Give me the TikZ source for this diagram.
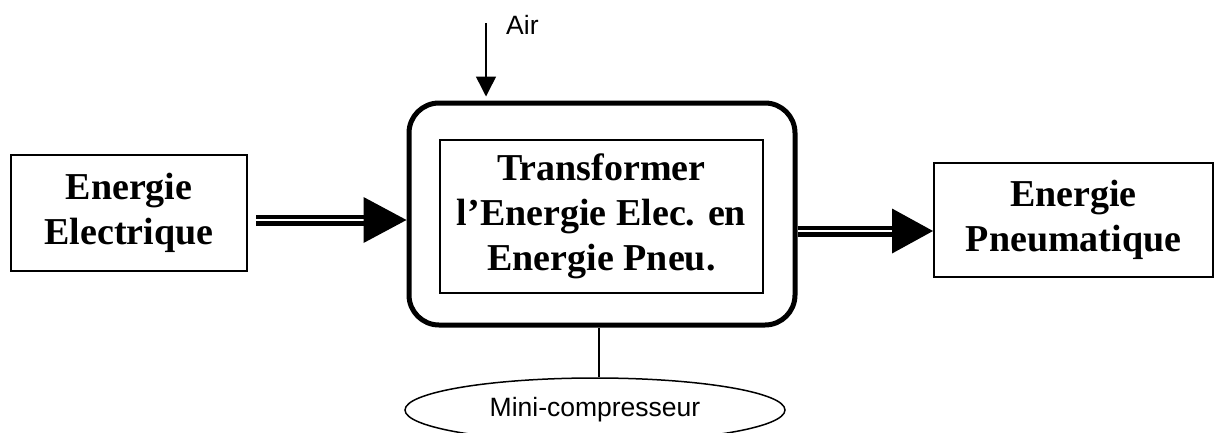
\documentclass[tikz,border=0pt]{standalone}
\usepackage{fontspec}
\setmainfont{Liberation Serif}
\newfontfamily\arialfont{Liberation Sans}
\usetikzlibrary{shapes.geometric,arrows.meta}
\begin{document}
\begin{tikzpicture}[x=1pt,y=-1pt,
  boxtxt/.style={font=\bfseries\fontsize{38}{45}\selectfont, align=center, inner sep=0pt},
  plainbox/.style={draw, line width=2pt, boxtxt},
  sanslabel/.style={font=\arialfont\fontsize{26.5}{30}\selectfont, inner sep=0pt},
  shaft/.style={draw, double, line width=4.5pt, double distance=2pt},
  thinline/.style={line width=1.5pt}
]
\useasboundingbox (0,0) rectangle (1215,432);
\clip (0,0) rectangle (1215,432);

% nodes
\node[plainbox, minimum width=236pt, minimum height=116pt] (ee) at (129,213) {Energie\\Electrique};
\node[plainbox, minimum width=279pt, minimum height=114pt] (ep) at (1073.5,220) {Energie\\Pneumatique};
\node[draw, line width=5pt, rounded corners=30pt, minimum width=386pt, minimum height=222pt] (outer) at (602,214) {};
\node[plainbox, minimum width=323pt, minimum height=153pt] (inner) at (601.5,216.5) {Transformer\\l’Energie Elec. en\\Energie Pneu.};
\node[draw, ellipse, thinline, minimum width=380pt, minimum height=64pt, inner sep=0pt, sanslabel] (comp) at (595,410) {Mini-compresseur};
\node[sanslabel, anchor=west] (air) at (506,25) {Air};

% air input
\coordinate (airtop) at (486,23);
\draw[thinline, -{Triangle[length=20pt,width=20pt]}, shorten >=4pt] (airtop) -- (airtop |- outer.north);

% link to compressor
\coordinate (lx) at (599,0);
\draw[thinline] (outer.south -| lx) -- (comp.north -| lx);

% left energy arrow
\coordinate (ya) at (0,220);
\draw[shaft, shorten <=8pt, shorten >=40pt] (ee.east |- ya) -- (outer.west |- ya);
\fill (outer.west |- ya) -- ++(-43,-23) -- ++(0,46) -- cycle;

% right energy arrow
\coordinate (yb) at (0,231);
\draw[shaft, shorten >=38pt] (outer.east |- yb) -- (ep.west |- yb);
\fill (ep.west |- yb) -- ++(-41,-22.5) -- ++(0,45) -- cycle;
\end{tikzpicture}
\end{document}
